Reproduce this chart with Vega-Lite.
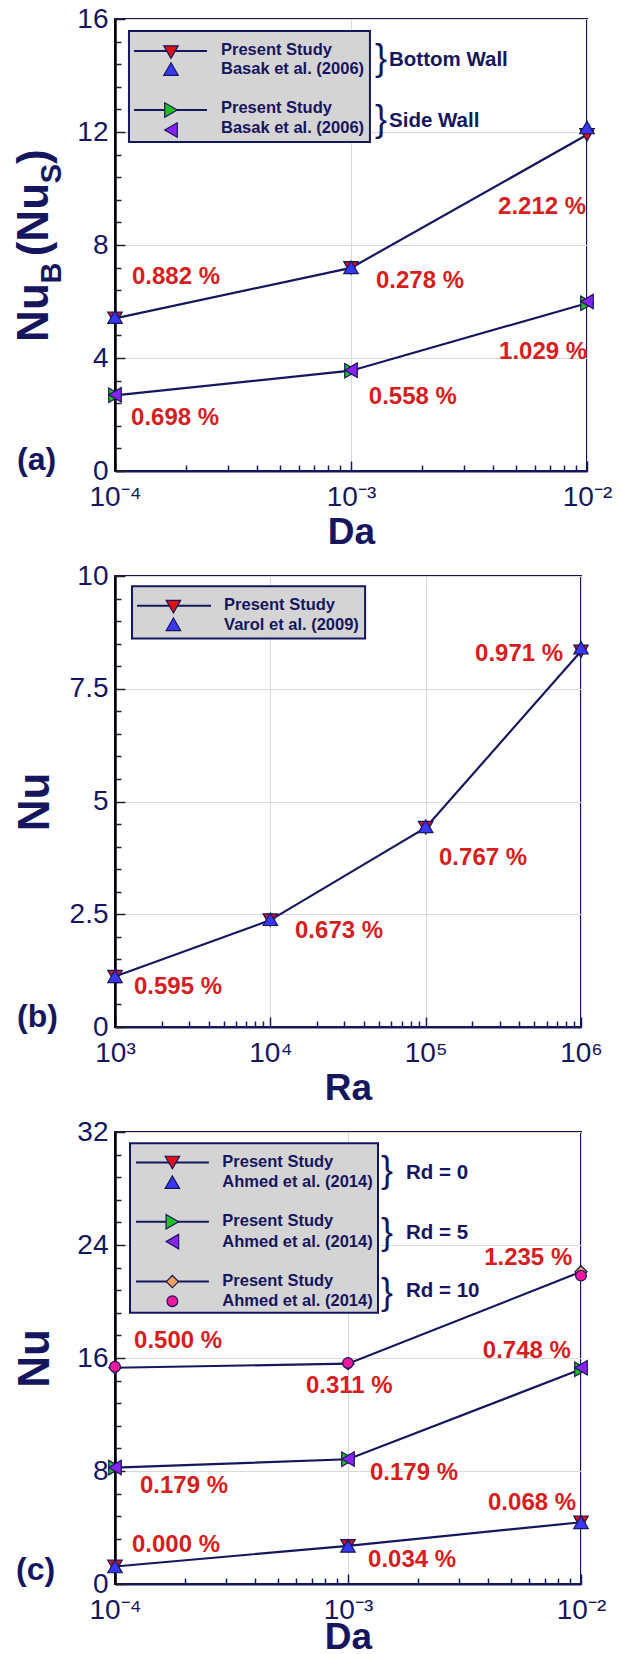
{
  "$schema": "https://vega.github.io/schema/vega-lite/v6.json",
  "autosize": {"type": "pad"},
  "padding": {"left": 11, "top": 4, "right": 4, "bottom": 12},
  "bounds": "flush",
  "spacing": 105,
  "resolve": {"scale": {"shape": "independent", "fill": "independent"}},
  "config": {
    "font": "Liberation Sans",
    "view": {"stroke": "#16165e", "strokeWidth": 2},
    "axis": {
      "labelFont": "Liberation Sans", "labelFontSize": 28, "labelColor": "#16165e",
      "titleFont": "Liberation Sans", "titleFontWeight": "bold", "titleColor": "#16165e",
      "gridColor": "#d9d9d9", "gridWidth": 1,
      "labelFlush": false, "labelOverlap": false
    },
    "axisX": {"domainColor": "#16165e", "domainWidth": 2, "tickColor": "#16165e", "tickWidth": 1.5, "labelPadding": 22, "titleFontSize": 37, "titleBaseline": "alphabetic", "titleY": 72},
    "axisY": {"domainColor": "#000000", "domainWidth": 2.5, "tickColor": "#222222", "tickWidth": 1.5, "labelPadding": 17, "titleFontSize": 44, "titleX": -67, "titleBaseline": "alphabetic"},
    "text": {"font": "Liberation Sans"}
  },
  "datasets": {
    "one": [{}],
    "a": [
      {"Da": 0.0001, "Nu": 5.40, "series": "Present Study, Bottom Wall", "study": "Present Study", "wall": "Bottom Wall"},
      {"Da": 0.001, "Nu": 7.19, "series": "Present Study, Bottom Wall", "study": "Present Study", "wall": "Bottom Wall"},
      {"Da": 0.01, "Nu": 11.90, "series": "Present Study, Bottom Wall", "study": "Present Study", "wall": "Bottom Wall"},
      {"Da": 0.0001, "Nu": 2.68, "series": "Present Study, Side Wall", "study": "Present Study", "wall": "Side Wall"},
      {"Da": 0.001, "Nu": 3.55, "series": "Present Study, Side Wall", "study": "Present Study", "wall": "Side Wall"},
      {"Da": 0.01, "Nu": 5.94, "series": "Present Study, Side Wall", "study": "Present Study", "wall": "Side Wall"},
      {"Da": 0.0001, "Nu": 5.45, "series": "Basak et al. (2006), Bottom Wall", "study": "Basak et al. (2006)", "wall": "Bottom Wall"},
      {"Da": 0.001, "Nu": 7.21, "series": "Basak et al. (2006), Bottom Wall", "study": "Basak et al. (2006)", "wall": "Bottom Wall"},
      {"Da": 0.01, "Nu": 12.16, "series": "Basak et al. (2006), Bottom Wall", "study": "Basak et al. (2006)", "wall": "Bottom Wall"},
      {"Da": 0.0001, "Nu": 2.70, "series": "Basak et al. (2006), Side Wall", "study": "Basak et al. (2006)", "wall": "Side Wall"},
      {"Da": 0.001, "Nu": 3.57, "series": "Basak et al. (2006), Side Wall", "study": "Basak et al. (2006)", "wall": "Side Wall"},
      {"Da": 0.01, "Nu": 6.00, "series": "Basak et al. (2006), Side Wall", "study": "Basak et al. (2006)", "wall": "Side Wall"}
    ],
    "aSym": [
      {"series": "Present Study, Bottom Wall", "x": 0.0001727, "y": 14.83},
      {"series": "Basak et al. (2006), Bottom Wall", "x": 0.0001727, "y": 14.23},
      {"series": "Present Study, Side Wall", "x": 0.0001727, "y": 12.78},
      {"series": "Basak et al. (2006), Side Wall", "x": 0.0001727, "y": 12.07}
    ],
    "aLine": [{"x": 0.0001204, "x2": 0.0002453, "y": 14.87}, {"x": 0.0001204, "x2": 0.0002453, "y": 12.78}],
    "aText": [
      {"t": "Present Study", "x": 0.0002812, "y": 14.92},
      {"t": "Basak et al. (2006)", "x": 0.0002812, "y": 14.23},
      {"t": "Present Study", "x": 0.0002812, "y": 12.85},
      {"t": "Basak et al. (2006)", "x": 0.0002812, "y": 12.14}
    ],
    "aBrace": [{"x": 0.00134, "y": 14.58}, {"x": 0.00134, "y": 12.43}],
    "aGroup": [{"t": "Bottom Wall", "x": 0.001449, "y": 14.55}, {"t": "Side Wall", "x": 0.001449, "y": 12.39}],
    "aNote": [
      {"t": "0.882 %", "x": 0.000118, "y": 6.85},
      {"t": "0.278 %", "x": 0.001276, "y": 6.74},
      {"t": "2.212 %", "x": 0.0042, "y": 9.36},
      {"t": "1.029 %", "x": 0.00424, "y": 4.21},
      {"t": "0.558 %", "x": 0.00119, "y": 2.62},
      {"t": "0.698 %", "x": 0.000117, "y": 1.86}
    ],
    "aTitleMain": [{"t": "Nu", "x": 0.000052, "y": 4.57}, {"t": "(Nu", "x": 0.000052, "y": 7.60}, {"t": ")", "x": 0.000052, "y": 10.87}],
    "aTitleSub": [{"t": "B", "x": 0.000059, "y": 6.64}, {"t": "S", "x": 0.000059, "y": 10.19}],
    "b": [
      {"Ra": 1000, "Nu": 1.118, "series": "Present Study"},
      {"Ra": 10000, "Nu": 2.37, "series": "Present Study"},
      {"Ra": 100000, "Nu": 4.42, "series": "Present Study"},
      {"Ra": 1000000, "Nu": 8.33, "series": "Present Study"},
      {"Ra": 1000, "Nu": 1.125, "series": "Varol et al. (2009)"},
      {"Ra": 10000, "Nu": 2.39, "series": "Varol et al. (2009)"},
      {"Ra": 100000, "Nu": 4.45, "series": "Varol et al. (2009)"},
      {"Ra": 1000000, "Nu": 8.41, "series": "Varol et al. (2009)"}
    ],
    "bSym": [{"series": "Present Study", "x": 2377, "y": 9.32}, {"series": "Varol et al. (2009)", "x": 2377, "y": 8.93}],
    "bLine": [{"x": 1386, "x2": 4150, "y": 9.34}],
    "bText": [{"t": "Present Study", "x": 5035, "y": 9.36}, {"t": "Varol et al. (2009)", "x": 5035, "y": 8.91}],
    "bNote": [
      {"t": "0.595 %", "x": 1325, "y": 0.88},
      {"t": "0.673 %", "x": 14420, "y": 2.12},
      {"t": "0.767 %", "x": 121900, "y": 3.75},
      {"t": "0.971 %", "x": 208000, "y": 8.28}
    ],
    "c": [
      {"Da": 0.0001, "Nu": 1.24, "series": "Present Study, Rd = 0", "Rd": 0},
      {"Da": 0.001, "Nu": 2.70, "series": "Present Study, Rd = 0", "Rd": 0},
      {"Da": 0.01, "Nu": 4.37, "series": "Present Study, Rd = 0", "Rd": 0},
      {"Da": 0.0001, "Nu": 8.24, "series": "Present Study, Rd = 5", "Rd": 5},
      {"Da": 0.001, "Nu": 8.83, "series": "Present Study, Rd = 5", "Rd": 5},
      {"Da": 0.01, "Nu": 15.20, "series": "Present Study, Rd = 5", "Rd": 5},
      {"Da": 0.0001, "Nu": 15.31, "series": "Present Study, Rd = 10", "Rd": 10},
      {"Da": 0.001, "Nu": 15.60, "series": "Present Study, Rd = 10", "Rd": 10},
      {"Da": 0.01, "Nu": 22.10, "series": "Present Study, Rd = 10", "Rd": 10},
      {"Da": 0.0001, "Nu": 1.24, "series": "Ahmed et al. (2014), Rd = 0", "Rd": 0},
      {"Da": 0.001, "Nu": 2.70, "series": "Ahmed et al. (2014), Rd = 0", "Rd": 0},
      {"Da": 0.01, "Nu": 4.37, "series": "Ahmed et al. (2014), Rd = 0", "Rd": 0},
      {"Da": 0.0001, "Nu": 8.25, "series": "Ahmed et al. (2014), Rd = 5", "Rd": 5},
      {"Da": 0.001, "Nu": 8.85, "series": "Ahmed et al. (2014), Rd = 5", "Rd": 5},
      {"Da": 0.01, "Nu": 15.31, "series": "Ahmed et al. (2014), Rd = 5", "Rd": 5},
      {"Da": 0.0001, "Nu": 15.38, "series": "Ahmed et al. (2014), Rd = 10", "Rd": 10},
      {"Da": 0.001, "Nu": 15.65, "series": "Ahmed et al. (2014), Rd = 10", "Rd": 10},
      {"Da": 0.01, "Nu": 21.83, "series": "Ahmed et al. (2014), Rd = 10", "Rd": 10}
    ],
    "cSym": [
      {"series": "Present Study, Rd = 0", "x": 0.0001763, "y": 29.84},
      {"series": "Ahmed et al. (2014), Rd = 0", "x": 0.0001763, "y": 28.45},
      {"series": "Present Study, Rd = 5", "x": 0.0001763, "y": 25.64},
      {"series": "Ahmed et al. (2014), Rd = 5", "x": 0.0001763, "y": 24.24},
      {"series": "Present Study, Rd = 10", "x": 0.0001763, "y": 21.41},
      {"series": "Ahmed et al. (2014), Rd = 10", "x": 0.0001763, "y": 20.02}
    ],
    "cLine": [
      {"x": 0.000123, "x2": 0.000253, "y": 29.84},
      {"x": 0.000123, "x2": 0.000253, "y": 25.64},
      {"x": 0.000123, "x2": 0.000253, "y": 21.41}
    ],
    "cText": [
      {"t": "Present Study", "x": 0.0002887, "y": 29.87},
      {"t": "Ahmed et al. (2014)", "x": 0.0002887, "y": 28.45},
      {"t": "Present Study", "x": 0.0002887, "y": 25.67},
      {"t": "Ahmed et al. (2014)", "x": 0.0002887, "y": 24.24},
      {"t": "Present Study", "x": 0.0002887, "y": 21.44},
      {"t": "Ahmed et al. (2014)", "x": 0.0002887, "y": 20.02}
    ],
    "cBrace": [{"x": 0.00147, "y": 29.24}, {"x": 0.00147, "y": 24.87}, {"x": 0.00147, "y": 20.58}],
    "cGroup": [
      {"t": "Rd = 0", "x": 0.001774, "y": 29.12},
      {"t": "Rd = 5", "x": 0.001774, "y": 24.83},
      {"t": "Rd = 10", "x": 0.001774, "y": 20.77}
    ],
    "cNote": [
      {"t": "0.500 %", "x": 0.0001207, "y": 17.17},
      {"t": "0.311 %", "x": 0.00066, "y": 14.05},
      {"t": "1.235 %", "x": 0.00384, "y": 23.1},
      {"t": "0.748 %", "x": 0.00379, "y": 16.53},
      {"t": "0.179 %", "x": 0.000128, "y": 6.92},
      {"t": "0.179 %", "x": 0.001242, "y": 7.88},
      {"t": "0.068 %", "x": 0.00399, "y": 5.72},
      {"t": "0.000 %", "x": 0.0001183, "y": 2.79},
      {"t": "0.034 %", "x": 0.001219, "y": 1.73}
    ]
  },
  "vconcat": [
    {
      "width": 472, "height": 452,
      "resolve": {"axis": {"x": "independent", "y": "independent"}},
      "layer": [
        {
          "data": {"name": "a"},
          "transform": [{"filter": "datum.study == 'Present Study'"}],
          "mark": {"type": "line", "color": "#16165e", "strokeWidth": 2.2},
          "encoding": {
            "x": {"field": "Da", "type": "quantitative",
              "scale": {"type": "log", "domain": [0.0001, 0.01], "nice": false},
              "axis": {"title": "Da", "orient": "bottom", "values": [0.0001, 0.001, 0.01], "grid": true, "tickSize": -10,
                "labelExpr": "datum.value == 0.0001 ? '10⁻⁴' : datum.value == 0.001 ? '10⁻³' : '10⁻²'"}},
            "y": {"field": "Nu", "type": "quantitative",
              "scale": {"domain": [0, 16], "nice": false, "zero": false},
              "axis": {"title": null, "orient": "left", "values": [0, 4, 8, 12, 16], "grid": true, "tickSize": -10,
                "labelExpr": "'' + datum.value"}},
            "detail": {"field": "wall"}
          }
        },
        {
          "data": {"name": "a"},
          "mark": {"type": "point", "filled": true, "size": 210, "stroke": "#16165e", "strokeWidth": 1.2, "opacity": 1},
          "encoding": {
            "x": {"field": "Da", "type": "quantitative",
              "axis": {"title": null, "orient": "bottom", "values": [0.0002, 0.0003, 0.0004, 0.0005, 0.0006, 0.0007, 0.0008, 0.0009, 0.002, 0.003, 0.004, 0.005, 0.006, 0.007, 0.008, 0.009],
                "grid": false, "domain": false, "labels": false, "tickSize": -6}},
            "y": {"field": "Nu", "type": "quantitative",
              "axis": {"title": null, "orient": "left", "values": [0.8, 1.6, 2.4, 3.2, 4.8, 5.6, 6.4, 7.2, 8.8, 9.6, 10.4, 11.2, 12.8, 13.6, 14.4, 15.2],
                "grid": false, "domain": false, "labels": false, "tickSize": -6}},
            "shape": {"field": "series", "type": "nominal", "legend": null,
              "scale": {"domain": ["Present Study, Bottom Wall", "Basak et al. (2006), Bottom Wall", "Present Study, Side Wall", "Basak et al. (2006), Side Wall"],
                "range": ["triangle-down", "triangle-up", "triangle-right", "triangle-left"]}},
            "fill": {"field": "series", "type": "nominal", "legend": null,
              "scale": {"domain": ["Present Study, Bottom Wall", "Basak et al. (2006), Bottom Wall", "Present Study, Side Wall", "Basak et al. (2006), Side Wall"],
                "range": ["#e01010", "#3838f0", "#20c020", "#8a22ee"]}}
          }
        },
        {
          "data": {"name": "one"},
          "mark": {"type": "rect", "fill": "#d4d4d4", "stroke": "#16165e", "strokeWidth": 2},
          "encoding": {
            "x": {"datum": 0.0001146, "type": "quantitative", "axis": null},
            "x2": {"datum": 0.001203},
            "y": {"datum": 15.575, "type": "quantitative", "axis": null},
            "y2": {"datum": 11.646}
          }
        },
        {
          "data": {"name": "aLine"},
          "mark": {"type": "rule", "color": "#16165e", "strokeWidth": 2},
          "encoding": {
            "x": {"field": "x", "type": "quantitative", "axis": null},
            "x2": {"field": "x2"},
            "y": {"field": "y", "type": "quantitative", "axis": null}
          }
        },
        {
          "data": {"name": "aSym"},
          "mark": {"type": "point", "filled": true, "size": 210, "stroke": "#16165e", "strokeWidth": 1.2, "opacity": 1},
          "encoding": {
            "x": {"field": "x", "type": "quantitative", "axis": null},
            "y": {"field": "y", "type": "quantitative", "axis": null},
            "shape": {"field": "series", "type": "nominal", "legend": null},
            "fill": {"field": "series", "type": "nominal", "legend": null}
          }
        },
        {
          "data": {"name": "aText"},
          "mark": {"type": "text", "align": "left", "baseline": "middle", "fontSize": 16.5, "fontWeight": "bold", "color": "#16165e"},
          "encoding": {
            "x": {"field": "x", "type": "quantitative", "axis": null},
            "y": {"field": "y", "type": "quantitative", "axis": null},
            "text": {"field": "t"}
          }
        },
        {
          "data": {"name": "aBrace"},
          "mark": {"type": "text", "text": "}", "align": "center", "baseline": "middle", "fontSize": 36, "color": "#16165e"},
          "encoding": {
            "x": {"field": "x", "type": "quantitative", "axis": null},
            "y": {"field": "y", "type": "quantitative", "axis": null}
          }
        },
        {
          "data": {"name": "aGroup"},
          "mark": {"type": "text", "align": "left", "baseline": "middle", "fontSize": 20.5, "fontWeight": "bold", "color": "#16165e"},
          "encoding": {
            "x": {"field": "x", "type": "quantitative", "axis": null},
            "y": {"field": "y", "type": "quantitative", "axis": null},
            "text": {"field": "t"}
          }
        },
        {
          "data": {"name": "aNote"},
          "mark": {"type": "text", "align": "left", "baseline": "middle", "fontSize": 24, "fontWeight": "bold", "color": "#d61e1e"},
          "encoding": {
            "x": {"field": "x", "type": "quantitative", "axis": null},
            "y": {"field": "y", "type": "quantitative", "axis": null},
            "text": {"field": "t"}
          }
        },
        {
          "data": {"name": "one"},
          "mark": {"type": "text", "text": "(a)", "align": "left", "baseline": "middle", "fontSize": 32, "fontWeight": "bold", "color": "#16165e"},
          "encoding": {
            "x": {"datum": 0.00003843, "type": "quantitative", "axis": null},
            "y": {"datum": 0.4, "type": "quantitative", "axis": null}
          }
        },
        {
          "data": {"name": "aTitleMain"},
          "mark": {"type": "text", "align": "left", "baseline": "alphabetic", "angle": 270, "fontSize": 44, "fontWeight": "bold", "color": "#16165e"},
          "encoding": {
            "x": {"field": "x", "type": "quantitative", "axis": null},
            "y": {"field": "y", "type": "quantitative", "axis": null},
            "text": {"field": "t"}
          }
        },
        {
          "data": {"name": "aTitleSub"},
          "mark": {"type": "text", "align": "left", "baseline": "alphabetic", "angle": 270, "fontSize": 29, "fontWeight": "bold", "color": "#16165e"},
          "encoding": {
            "x": {"field": "x", "type": "quantitative", "axis": null},
            "y": {"field": "y", "type": "quantitative", "axis": null},
            "text": {"field": "t"}
          }
        }
      ]
    },
    {
      "width": 466, "height": 451,
      "resolve": {"axis": {"x": "independent", "y": "independent"}},
      "layer": [
        {
          "data": {"name": "b"},
          "transform": [{"filter": "datum.series == 'Present Study'"}],
          "mark": {"type": "line", "color": "#16165e", "strokeWidth": 2.2},
          "encoding": {
            "x": {"field": "Ra", "type": "quantitative",
              "scale": {"type": "log", "domain": [1000, 1000000], "nice": false},
              "axis": {"title": "Ra", "orient": "bottom", "values": [1000, 10000, 100000, 1000000], "grid": true, "tickSize": -10,
                "labelExpr": "datum.value == 1000 ? '10³' : datum.value == 10000 ? '10⁴' : datum.value == 100000 ? '10⁵' : '10⁶'"}},
            "y": {"field": "Nu", "type": "quantitative",
              "scale": {"domain": [0, 10], "nice": false, "zero": false},
              "axis": {"title": "Nu", "titleY": 225.5, "orient": "left", "values": [0, 2.5, 5, 7.5, 10], "grid": true, "tickSize": -10,
                "labelExpr": "'' + datum.value"}}
          }
        },
        {
          "data": {"name": "b"},
          "mark": {"type": "point", "filled": true, "size": 210, "stroke": "#16165e", "strokeWidth": 1.2, "opacity": 1},
          "encoding": {
            "x": {"field": "Ra", "type": "quantitative",
              "axis": {"title": null, "orient": "bottom", "values": [2000, 3000, 4000, 5000, 6000, 7000, 8000, 9000, 20000, 30000, 40000, 50000, 60000, 70000, 80000, 90000, 200000, 300000, 400000, 500000, 600000, 700000, 800000, 900000],
                "grid": false, "domain": false, "labels": false, "tickSize": -6}},
            "y": {"field": "Nu", "type": "quantitative",
              "axis": {"title": null, "orient": "left", "values": [0.5, 1, 1.5, 2, 3, 3.5, 4, 4.5, 5.5, 6, 6.5, 7, 8, 8.5, 9, 9.5],
                "grid": false, "domain": false, "labels": false, "tickSize": -6}},
            "shape": {"field": "series", "type": "nominal", "legend": null,
              "scale": {"domain": ["Present Study", "Varol et al. (2009)"], "range": ["triangle-down", "triangle-up"]}},
            "fill": {"field": "series", "type": "nominal", "legend": null,
              "scale": {"domain": ["Present Study", "Varol et al. (2009)"], "range": ["#e01010", "#3838f0"]}}
          }
        },
        {
          "data": {"name": "one"},
          "mark": {"type": "rect", "fill": "#d4d4d4", "stroke": "#16165e", "strokeWidth": 2},
          "encoding": {
            "x": {"datum": 1287, "type": "quantitative", "axis": null},
            "x2": {"datum": 40740},
            "y": {"datum": 9.77, "type": "quantitative", "axis": null},
            "y2": {"datum": 8.614}
          }
        },
        {
          "data": {"name": "bLine"},
          "mark": {"type": "rule", "color": "#16165e", "strokeWidth": 2},
          "encoding": {
            "x": {"field": "x", "type": "quantitative", "axis": null},
            "x2": {"field": "x2"},
            "y": {"field": "y", "type": "quantitative", "axis": null}
          }
        },
        {
          "data": {"name": "bSym"},
          "mark": {"type": "point", "filled": true, "size": 210, "stroke": "#16165e", "strokeWidth": 1.2, "opacity": 1},
          "encoding": {
            "x": {"field": "x", "type": "quantitative", "axis": null},
            "y": {"field": "y", "type": "quantitative", "axis": null},
            "shape": {"field": "series", "type": "nominal", "legend": null},
            "fill": {"field": "series", "type": "nominal", "legend": null}
          }
        },
        {
          "data": {"name": "bText"},
          "mark": {"type": "text", "align": "left", "baseline": "middle", "fontSize": 16.5, "fontWeight": "bold", "color": "#16165e"},
          "encoding": {
            "x": {"field": "x", "type": "quantitative", "axis": null},
            "y": {"field": "y", "type": "quantitative", "axis": null},
            "text": {"field": "t"}
          }
        },
        {
          "data": {"name": "bNote"},
          "mark": {"type": "text", "align": "left", "baseline": "middle", "fontSize": 24, "fontWeight": "bold", "color": "#d61e1e"},
          "encoding": {
            "x": {"field": "x", "type": "quantitative", "axis": null},
            "y": {"field": "y", "type": "quantitative", "axis": null},
            "text": {"field": "t"}
          }
        },
        {
          "data": {"name": "one"},
          "mark": {"type": "text", "text": "(b)", "align": "left", "baseline": "middle", "fontSize": 32, "fontWeight": "bold", "color": "#16165e"},
          "encoding": {
            "x": {"datum": 233.9, "type": "quantitative", "axis": null},
            "y": {"datum": 0.22, "type": "quantitative", "axis": null}
          }
        }
      ]
    },
    {
      "width": 466, "height": 452,
      "resolve": {"axis": {"x": "independent", "y": "independent"}},
      "layer": [
        {
          "data": {"name": "c"},
          "transform": [{"filter": "indexof(datum.series, 'Present') == 0"}],
          "mark": {"type": "line", "color": "#16165e", "strokeWidth": 2.2},
          "encoding": {
            "x": {"field": "Da", "type": "quantitative",
              "scale": {"type": "log", "domain": [0.0001, 0.01], "nice": false},
              "axis": {"title": "Da", "titleY": 64, "orient": "bottom", "values": [0.0001, 0.001, 0.01], "grid": true, "tickSize": -10,
                "labelExpr": "datum.value == 0.0001 ? '10⁻⁴' : datum.value == 0.001 ? '10⁻³' : '10⁻²'"}},
            "y": {"field": "Nu", "type": "quantitative",
              "scale": {"domain": [0, 32], "nice": false, "zero": false},
              "axis": {"title": "Nu", "titleY": 226, "orient": "left", "values": [0, 8, 16, 24, 32], "grid": true, "tickSize": -10,
                "labelExpr": "'' + datum.value"}},
            "detail": {"field": "Rd"}
          }
        },
        {
          "data": {"name": "c"},
          "mark": {"type": "point", "filled": true, "stroke": "#16165e", "strokeWidth": 1.2, "opacity": 1},
          "encoding": {
            "x": {"field": "Da", "type": "quantitative",
              "axis": {"title": null, "orient": "bottom", "values": [0.0002, 0.0003, 0.0004, 0.0005, 0.0006, 0.0007, 0.0008, 0.0009, 0.002, 0.003, 0.004, 0.005, 0.006, 0.007, 0.008, 0.009],
                "grid": false, "domain": false, "labels": false, "tickSize": -6}},
            "y": {"field": "Nu", "type": "quantitative",
              "axis": {"title": null, "orient": "left", "values": [1.6, 3.2, 4.8, 6.4, 9.6, 11.2, 12.8, 14.4, 17.6, 19.2, 20.8, 22.4, 25.6, 27.2, 28.8, 30.4],
                "grid": false, "domain": false, "labels": false, "tickSize": -6}},
            "shape": {"field": "series", "type": "nominal", "legend": null,
              "scale": {"domain": ["Present Study, Rd = 0", "Ahmed et al. (2014), Rd = 0", "Present Study, Rd = 5", "Ahmed et al. (2014), Rd = 5", "Present Study, Rd = 10", "Ahmed et al. (2014), Rd = 10"],
                "range": ["triangle-down", "triangle-up", "triangle-right", "triangle-left", "diamond", "circle"]}},
            "fill": {"field": "series", "type": "nominal", "legend": null,
              "scale": {"domain": ["Present Study, Rd = 0", "Ahmed et al. (2014), Rd = 0", "Present Study, Rd = 5", "Ahmed et al. (2014), Rd = 5", "Present Study, Rd = 10", "Ahmed et al. (2014), Rd = 10"],
                "range": ["#e01010", "#3838f0", "#20c020", "#8a22ee", "#f5a055", "#f0189a"]}},
            "size": {"condition": [
                {"test": "datum.series == 'Ahmed et al. (2014), Rd = 10'", "value": 115},
                {"test": "datum.series == 'Present Study, Rd = 10'", "value": 150}
              ], "value": 210}
          }
        },
        {
          "data": {"name": "one"},
          "mark": {"type": "rect", "fill": "#d4d4d4", "stroke": "#16165e", "strokeWidth": 2},
          "encoding": {
            "x": {"datum": 0.000116, "type": "quantitative", "axis": null},
            "x2": {"datum": 0.001345},
            "y": {"datum": 31.2, "type": "quantitative", "axis": null},
            "y2": {"datum": 19.21}
          }
        },
        {
          "data": {"name": "cLine"},
          "mark": {"type": "rule", "color": "#16165e", "strokeWidth": 2},
          "encoding": {
            "x": {"field": "x", "type": "quantitative", "axis": null},
            "x2": {"field": "x2"},
            "y": {"field": "y", "type": "quantitative", "axis": null}
          }
        },
        {
          "data": {"name": "cSym"},
          "mark": {"type": "point", "filled": true, "stroke": "#16165e", "strokeWidth": 1.2, "opacity": 1},
          "encoding": {
            "x": {"field": "x", "type": "quantitative", "axis": null},
            "y": {"field": "y", "type": "quantitative", "axis": null},
            "shape": {"field": "series", "type": "nominal", "legend": null},
            "fill": {"field": "series", "type": "nominal", "legend": null},
            "size": {"condition": [
                {"test": "datum.series == 'Ahmed et al. (2014), Rd = 10'", "value": 115},
                {"test": "datum.series == 'Present Study, Rd = 10'", "value": 150}
              ], "value": 210}
          }
        },
        {
          "data": {"name": "cText"},
          "mark": {"type": "text", "align": "left", "baseline": "middle", "fontSize": 16.5, "fontWeight": "bold", "color": "#16165e"},
          "encoding": {
            "x": {"field": "x", "type": "quantitative", "axis": null},
            "y": {"field": "y", "type": "quantitative", "axis": null},
            "text": {"field": "t"}
          }
        },
        {
          "data": {"name": "cBrace"},
          "mark": {"type": "text", "text": "}", "align": "center", "baseline": "middle", "fontSize": 36, "color": "#16165e"},
          "encoding": {
            "x": {"field": "x", "type": "quantitative", "axis": null},
            "y": {"field": "y", "type": "quantitative", "axis": null}
          }
        },
        {
          "data": {"name": "cGroup"},
          "mark": {"type": "text", "align": "left", "baseline": "middle", "fontSize": 20.5, "fontWeight": "bold", "color": "#16165e"},
          "encoding": {
            "x": {"field": "x", "type": "quantitative", "axis": null},
            "y": {"field": "y", "type": "quantitative", "axis": null},
            "text": {"field": "t"}
          }
        },
        {
          "data": {"name": "cNote"},
          "mark": {"type": "text", "align": "left", "baseline": "middle", "fontSize": 24, "fontWeight": "bold", "color": "#d61e1e"},
          "encoding": {
            "x": {"field": "x", "type": "quantitative", "axis": null},
            "y": {"field": "y", "type": "quantitative", "axis": null},
            "text": {"field": "t"}
          }
        },
        {
          "data": {"name": "one"},
          "mark": {"type": "text", "text": "(c)", "align": "left", "baseline": "middle", "fontSize": 32, "fontWeight": "bold", "color": "#16165e"},
          "encoding": {
            "x": {"datum": 0.0000376, "type": "quantitative", "axis": null},
            "y": {"datum": 1.0, "type": "quantitative", "axis": null}
          }
        }
      ]
    }
  ]
}
